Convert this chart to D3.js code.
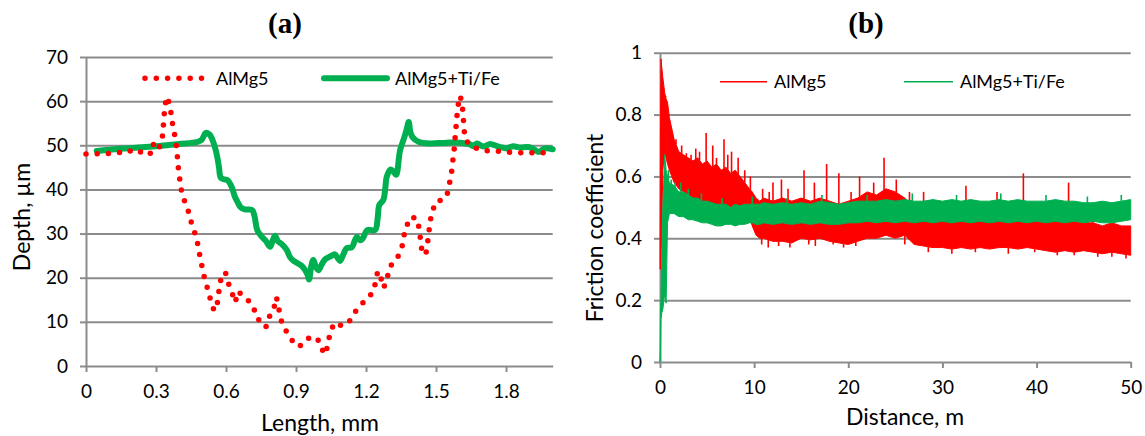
<!DOCTYPE html>
<html><head><meta charset="utf-8">
<script src="https://cdn.jsdelivr.net/npm/d3@7"></script>
<style>
body{margin:0;background:#fff;}
svg{display:block;}
text{font-family:Lato,"Open Sans",sans-serif;fill:#000;}
</style></head><body>
<svg id="c" width="1145" height="436"></svg>
<script>
// ---------- Panel (a): depth profiles ----------
const depthTicksX = [0, 0.3, 0.6, 0.9, 1.2, 1.5, 1.8];
const depthTicksY = [0, 10, 20, 30, 40, 50, 60, 70];
const almg5Length = [0,0.043,0.09,0.137,0.183,0.211,0.26,0.28,0.29,0.31,0.326,0.33,0.334,0.337,0.346,0.36,0.366,0.373,0.383,0.389,0.393,0.397,0.404,0.411,0.427,0.443,0.454,0.471,0.481,0.489,0.499,0.509,0.523,0.534,0.549,0.563,0.569,0.576,0.597,0.609,0.626,0.64,0.65,0.673,0.702,0.723,0.736,0.754,0.772,0.787,0.806,0.816,0.826,0.834,0.85,0.872,0.894,0.916,0.951,0.991,1.007,1.026,1.037,1.046,1.064,1.093,1.123,1.146,1.173,1.202,1.229,1.242,1.25,1.263,1.276,1.291,1.304,1.332,1.353,1.36,1.372,1.392,1.419,1.429,1.434,1.44,1.456,1.463,1.469,1.474,1.484,1.502,1.525,1.547,1.557,1.566,1.571,1.577,1.581,1.585,1.589,1.593,1.604,1.613,1.617,1.62,1.626,1.66,1.706,1.753,1.799,1.846,1.892,1.939,1.986];
const almg5Depth = [48.0,48.1,48.1,48.3,48.9,48.1,48.9,48.0,50.4,49.1,51.0,53.6,56.0,58.5,61.0,59.1,56.6,54.1,51.6,49.1,46.6,44.1,41.5,39.0,36.7,34.4,31.9,29.5,27.1,24.6,22.1,19.6,17.2,14.9,12.5,14.3,16.8,19.3,21.3,18.9,16.5,14.4,16.9,16.0,14.5,12.5,10.5,10.5,8.9,11.3,13.3,15.6,13.1,10.7,8.5,6.9,4.8,4.5,6.3,6.4,4.1,2.6,5.0,7.5,9.8,9.2,9.6,11.7,13.7,15.0,16.7,19.1,21.5,20.1,17.7,20.1,22.6,24.3,26.5,29.0,31.5,33.8,33.4,30.8,28.3,25.8,25.2,27.6,30.1,32.6,35.1,37.4,37.5,38.7,41.2,43.6,46.1,48.6,51.2,53.7,56.2,58.7,61.2,58.7,56.2,53.6,51.2,49.5,48.8,48.7,48.5,48.3,48.3,48.3,48.3];
const tifeLength = [0.046,0.1,0.2,0.3,0.4,0.474,0.495,0.514,0.53,0.545,0.56,0.57,0.577,0.59,0.606,0.624,0.637,0.649,0.662,0.68,0.712,0.722,0.734,0.753,0.77,0.789,0.8,0.81,0.822,0.839,0.86,0.875,0.89,0.924,0.939,0.95,0.956,0.965,0.974,0.985,0.996,1.01,1.025,1.046,1.067,1.078,1.089,1.103,1.117,1.139,1.16,1.175,1.185,1.206,1.239,1.25,1.257,1.274,1.283,1.289,1.306,1.318,1.329,1.346,1.363,1.375,1.383,1.39,1.4,1.425,1.474,1.546,1.603,1.646,1.66,1.675,1.703,1.732,1.746,1.775,1.803,1.83,1.86,1.896,1.92,1.939,1.967,2.0];
const tifeDepth = [48.7,49.0,49.4,49.8,50.3,50.7,51.2,52.8,52.4,50.8,48.0,45.0,42.7,42.3,42.1,40.6,38.5,37.2,36.0,35.5,35.3,34.0,30.8,29.3,28.4,27.0,28.4,29.5,28.3,27.6,26.3,24.6,23.8,22.7,21.7,20.6,19.6,22.5,24.0,22.5,21.7,23.0,24.2,24.8,25.3,24.5,23.8,25.3,26.7,26.9,29.2,28.5,28.8,30.8,30.8,33.5,36.5,37.6,40.5,42.9,44.5,44.0,43.3,48.9,51.6,53.8,55.3,53.0,51.8,50.8,50.4,50.6,50.6,50.2,49.8,50.4,49.7,50.3,50.1,49.6,49.3,49.8,49.5,49.6,49.1,48.5,49.3,49.1];

// ---------- Panel (b): friction coefficient (band envelope) ----------
const frictionTicksX = [0, 10, 20, 30, 40, 50];
const frictionTicksY = [0, 0.2, 0.4, 0.6, 0.8, 1];
const frictionDistance = [0,0.05,0.1,0.2,0.3,0.5,0.65,0.8,1.0,1.5,2,2.5,3,3.5,4,4.5,5,5.5,6,6.5,7,7.5,8,8.5,9,9.5,9.8,10.2,10.6,11,12,13,14,15,16,17,18,19,20,21,22,23,24,25,26,27,28,29,30,31,32,33,34,35,36,37,38,39,40,41,42,43,44,45,46,47,48,49,50];
const almg5FricLow  = [0.30,0.30,0.33,0.45,0.62,0.68,0.66,0.64,0.62,0.58,0.56,0.55,0.54,0.53,0.53,0.52,0.52,0.51,0.51,0.50,0.50,0.50,0.49,0.50,0.49,0.47,0.44,0.41,0.40,0.40,0.39,0.39,0.385,0.40,0.395,0.40,0.39,0.385,0.38,0.39,0.40,0.40,0.41,0.40,0.41,0.38,0.375,0.37,0.37,0.365,0.37,0.365,0.37,0.365,0.37,0.37,0.365,0.37,0.365,0.36,0.355,0.36,0.355,0.36,0.355,0.35,0.355,0.35,0.345];
const almg5FricHigh = [0.30,0.75,0.98,0.95,0.92,0.87,0.85,0.84,0.79,0.72,0.68,0.67,0.66,0.65,0.66,0.64,0.65,0.63,0.64,0.62,0.63,0.61,0.62,0.60,0.58,0.56,0.55,0.53,0.52,0.53,0.52,0.53,0.52,0.53,0.52,0.53,0.52,0.51,0.52,0.53,0.55,0.54,0.56,0.55,0.53,0.50,0.50,0.49,0.49,0.48,0.49,0.48,0.48,0.49,0.48,0.48,0.49,0.48,0.48,0.47,0.46,0.47,0.46,0.45,0.45,0.44,0.45,0.44,0.44];
const tifeFricLow  = [0,0.03,0.14,0.16,0.17,0.22,0.19,0.45,0.48,0.48,0.47,0.47,0.46,0.46,0.455,0.45,0.45,0.445,0.44,0.44,0.445,0.445,0.44,0.445,0.445,0.45,0.45,0.445,0.445,0.45,0.445,0.45,0.445,0.45,0.445,0.45,0.445,0.445,0.45,0.45,0.455,0.45,0.455,0.45,0.455,0.45,0.455,0.45,0.455,0.45,0.455,0.45,0.455,0.45,0.455,0.45,0.455,0.45,0.455,0.45,0.455,0.45,0.455,0.45,0.455,0.45,0.45,0.455,0.46];
const tifeFricHigh = [0,0.16,0.20,0.35,0.50,0.67,0.62,0.60,0.58,0.57,0.55,0.55,0.54,0.53,0.53,0.52,0.52,0.515,0.51,0.51,0.51,0.50,0.51,0.505,0.51,0.51,0.51,0.51,0.51,0.515,0.51,0.515,0.51,0.515,0.51,0.52,0.515,0.51,0.515,0.52,0.52,0.52,0.525,0.52,0.525,0.52,0.52,0.525,0.52,0.525,0.52,0.525,0.52,0.52,0.525,0.52,0.525,0.52,0.52,0.52,0.525,0.52,0.52,0.515,0.515,0.52,0.515,0.52,0.525];
// isolated peaks above the AlMg5 band and dips below it
const almg5SpikeDist = [0.6,1.0,1.7,2.3,2.8,3.3,3.8,4.2,4.9,5.6,6.0,6.8,7.2,7.6,8.3,9.0,9.6,10.9,11.6,12.0,12.9,13.6,15.3,16.4,17.7,19.0,20.3,21.2,22.7,23.8,25.1,26.5,28.0,30.2,32.5,34.0,35.8,38.6,40.5,43.4,46.0];
const almg5SpikeFric = [0.86,0.79,0.72,0.70,0.675,0.67,0.69,0.68,0.74,0.70,0.66,0.72,0.67,0.68,0.66,0.62,0.60,0.56,0.55,0.58,0.59,0.56,0.62,0.58,0.64,0.61,0.55,0.60,0.58,0.66,0.59,0.55,0.55,0.52,0.57,0.52,0.55,0.61,0.52,0.58,0.51];
const almg5DipDist = [10.8,11.5,12.6,13.8,15.8,16.5,18.4,19.5,20.8,26.0,28.5,31.0,33.5,37.0,39.8,42.2,44.0,46.5,48.0,49.5];
const almg5DipFric = [0.38,0.37,0.375,0.37,0.38,0.375,0.38,0.37,0.375,0.38,0.355,0.35,0.355,0.35,0.355,0.345,0.345,0.34,0.34,0.335];
const tifeSpikeDist = [0.9,1.2,1.6,2.2,3.0,4.4,6.6,9.8,13.5,17.2,22.0,26.8,31.5,36.2,41.0,45.4,49.0];
const tifeSpikeFric = [0.62,0.59,0.58,0.58,0.56,0.545,0.53,0.535,0.53,0.54,0.54,0.545,0.54,0.545,0.54,0.535,0.54];

const RED = "#ff0000", GREEN = "#00b050", GRID = "#8c8c8c";
const svg = d3.select("#c");

function drawFrame(x, y, xTicks, yTicks, fmtX, fmtY) {
  const [x0, x1] = x.range();
  const g = svg.append("g");
  g.append("g").attr("transform", `translate(${x0},0)`)
    .call(d3.axisLeft(y).tickValues(yTicks.slice(1)).tickSize(-(x1 - x0)).tickFormat(""))
    .call(s => s.select(".domain").remove())
    .call(s => s.selectAll("line").attr("stroke", GRID).attr("stroke-width", 2));
  g.append("g").attr("transform", `translate(${x0},0)`)
    .call(d3.axisLeft(y).tickValues(yTicks).tickSize(6).tickPadding(12).tickSizeOuter(0).tickFormat(fmtY))
    .call(s => s.selectAll("line,path").attr("stroke", GRID).attr("stroke-width", 2))
    .call(s => s.selectAll("text").attr("font-size", 19).attr("font-family", "Lato").attr("fill", "#000"));
  g.append("g").attr("transform", `translate(0,${y.range()[0]})`)
    .call(d3.axisBottom(x).tickValues(xTicks).tickSize(6).tickPadding(13).tickSizeOuter(0).tickFormat(fmtX))
    .call(s => s.selectAll("line,path").attr("stroke", GRID).attr("stroke-width", 2))
    .call(s => s.selectAll("text").attr("font-size", 19).attr("font-family", "Lato").attr("fill", "#000"));
}

// ----- Panel (a) -----
const xa = d3.scaleLinear().domain([0, 2]).range([86, 552.7]);
const ya = d3.scaleLinear().domain([0, 70]).range([366, 57]);
drawFrame(xa, ya, depthTicksX, depthTicksY, d => d === 0 ? "0" : d3.format(".1f")(d), d3.format("d"));

const tifeA = tifeLength.map((v, i) => [v, tifeDepth[i]]);
const almg5A = almg5Length.map((v, i) => [v, almg5Depth[i]]);
svg.append("path").datum(tifeA)
  .attr("d", d3.line().x(d => xa(d[0])).y(d => ya(d[1])).curve(d3.curveCatmullRom.alpha(0.5)))
  .attr("fill", "none").attr("stroke", GREEN).attr("stroke-width", 6)
  .attr("stroke-linejoin", "round").attr("stroke-linecap", "round");
svg.append("path").datum(almg5A)
  .attr("d", d3.line().x(d => xa(d[0])).y(d => ya(d[1])))
  .attr("fill", "none").attr("stroke", RED).attr("stroke-width", 5.5)
  .attr("stroke-dasharray", "0 11.2").attr("stroke-linecap", "round");

svg.append("line").attr("x1", 145).attr("x2", 202).attr("y1", 78.3).attr("y2", 78.3)
  .attr("stroke", RED).attr("stroke-width", 5.5).attr("stroke-dasharray", "0 11.3").attr("stroke-linecap", "round");
svg.append("text").attr("x", 216).attr("y", 78.3).attr("dy", "0.35em").attr("font-size", 18).text("AlMg5");
svg.append("line").attr("x1", 324).attr("x2", 387).attr("y1", 78.3).attr("y2", 78.3)
  .attr("stroke", GREEN).attr("stroke-width", 6).attr("stroke-linecap", "round");
svg.append("text").attr("x", 395).attr("y", 78.3).attr("dy", "0.35em").attr("font-size", 18).text("AlMg5+Ti/Fe");

svg.append("text").attr("x", 285).attr("y", 33).attr("text-anchor", "middle")
  .style("font-family", "'Liberation Serif',serif").attr("font-weight", "bold").attr("font-size", 29).text("(a)");
svg.append("text").attr("x", 320).attr("y", 431).attr("text-anchor", "middle").attr("font-size", 23).text("Length, mm");
svg.append("text").attr("transform", "translate(30,217) rotate(-90)").attr("text-anchor", "middle").attr("font-size", 23).text("Depth, µm");

// ----- Panel (b) -----
const xb = d3.scaleLinear().domain([0, 50]).range([660, 1130.7]);
const yb = d3.scaleLinear().domain([0, 1]).range([362, 52.7]);
drawFrame(xb, yb, frictionTicksX, frictionTicksY, d3.format("d"), d => String(d));

const band = (lo, hi) => frictionDistance.map((d, i) => ({d, lo: lo[i], hi: hi[i]}));
const area = d3.area().x(p => xb(p.d)).y0(p => yb(p.lo)).y1(p => yb(p.hi));
const almg5Hi = d3.scaleLinear().domain(frictionDistance).range(almg5FricHigh);
const almg5Lo = d3.scaleLinear().domain(frictionDistance).range(almg5FricLow);
const tifeHi = d3.scaleLinear().domain(frictionDistance).range(tifeFricHigh);

function spikes(dist, vals, base, color, w) {
  svg.append("g").selectAll("line").data(dist.map((d, i) => [d, vals[i]])).join("line")
    .attr("x1", d => xb(d[0])).attr("x2", d => xb(d[0]))
    .attr("y1", d => yb(base(d[0]))).attr("y2", d => yb(d[1]))
    .attr("stroke", color).attr("stroke-width", w);
}

svg.append("path").datum(band(almg5FricLow, almg5FricHigh)).attr("d", area)
  .attr("fill", RED).attr("stroke", RED).attr("stroke-width", 1);
spikes(almg5SpikeDist, almg5SpikeFric, almg5Hi, RED, 1.6);
spikes(almg5DipDist, almg5DipFric, almg5Lo, RED, 1.6);
svg.append("path").datum(band(tifeFricLow, tifeFricHigh)).attr("d", area)
  .attr("fill", GREEN).attr("stroke", GREEN).attr("stroke-width", 1);
spikes(tifeSpikeDist, tifeSpikeFric, tifeHi, GREEN, 1.6);

svg.append("line").attr("x1", 720).attr("x2", 767).attr("y1", 81.7).attr("y2", 81.7).attr("stroke", RED).attr("stroke-width", 1.5);
svg.append("text").attr("x", 774).attr("y", 81.7).attr("dy", "0.35em").attr("font-size", 18).text("AlMg5");
svg.append("line").attr("x1", 904).attr("x2", 953).attr("y1", 81.7).attr("y2", 81.7).attr("stroke", GREEN).attr("stroke-width", 1.5);
svg.append("text").attr("x", 960).attr("y", 81.7).attr("dy", "0.35em").attr("font-size", 18).text("AlMg5+Ti/Fe");

svg.append("text").attr("x", 866).attr("y", 33).attr("text-anchor", "middle")
  .style("font-family", "'Liberation Serif',serif").attr("font-weight", "bold").attr("font-size", 29).text("(b)");
svg.append("text").attr("x", 905).attr("y", 425).attr("text-anchor", "middle").attr("font-size", 23).text("Distance, m");
svg.append("text").attr("transform", "translate(603,228) rotate(-90)").attr("text-anchor", "middle").attr("font-size", 23).text("Friction coefficient");
</script>
</body></html>
